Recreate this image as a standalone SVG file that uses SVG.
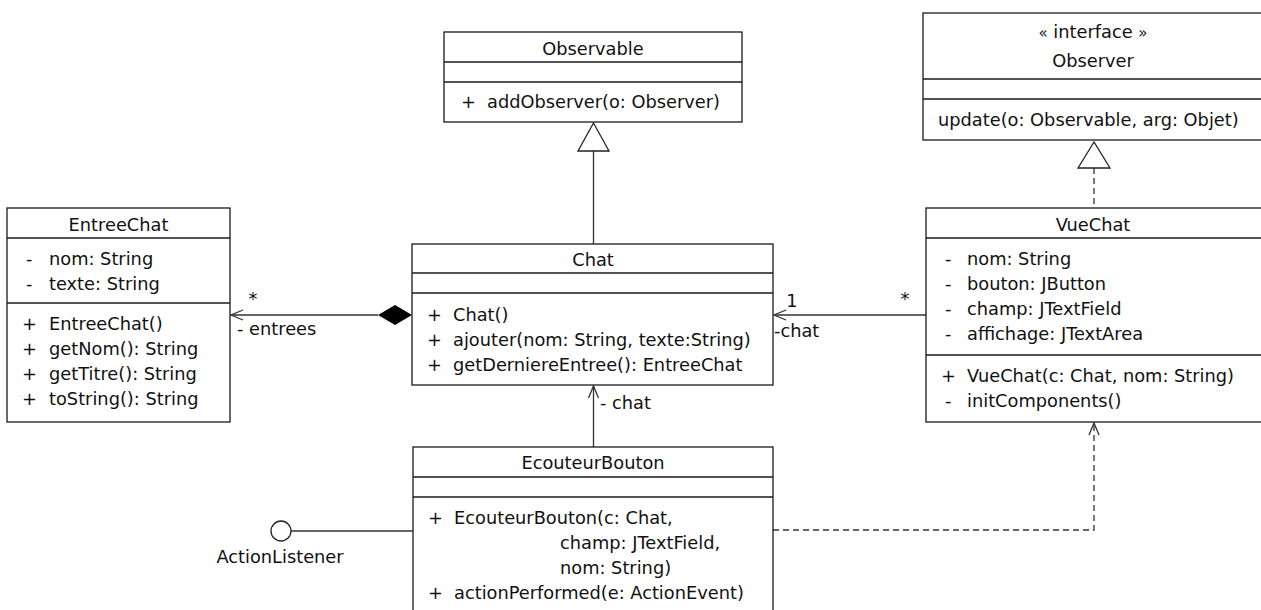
<svg xmlns="http://www.w3.org/2000/svg" width="1261" height="610" viewBox="0 0 1261 610">
<style>
  text { font-family: "DejaVu Sans", "Liberation Sans", sans-serif; font-size: 17.8px; fill: #111; }
  .c { text-anchor: middle; }
  .box { fill: #fff; stroke: #1a1a1a; stroke-width: 1.3; }
  .sep { stroke: #1a1a1a; stroke-width: 1.3; }
  .ln { fill: none; stroke: #333; stroke-width: 1.3; }
  .dash { fill: none; stroke: #333; stroke-width: 1.3; stroke-dasharray: 6 4; }
  .tri { fill: #fff; stroke: #222; stroke-width: 1.3; }
  .small { font-size: 15px; }
</style>
<rect width="1261" height="610" fill="#fff"/>

<g id="connectors">
  <!-- Chat -> Observable generalization -->
  <line class="ln" x1="593.5" y1="151" x2="593.5" y2="244"/>
  <polygon class="tri" points="593.5,123 578,151 609,151"/>
  <!-- VueChat -> Observer realization -->
  <line class="dash" x1="1094" y1="168" x2="1094" y2="208"/>
  <polygon class="tri" points="1094,142 1078,168 1110,168"/>
  <!-- Chat composition to EntreeChat -->
  <line class="ln" x1="231" y1="315" x2="378" y2="315"/>
  <polyline class="ln" points="243,310 231,315 243,320"/>
  <polygon points="378,315 395,305 412,315 395,325" fill="#000"/>
  <text x="253" y="305" class="c">*</text>
  <text x="237" y="335">- entrees</text>
  <!-- VueChat -> Chat -->
  <line class="ln" x1="774" y1="315" x2="926" y2="315"/>
  <polyline class="ln" points="786,310 774,315 786,320"/>
  <text x="792" y="307" class="c">1</text>
  <text x="905" y="305" class="c">*</text>
  <text x="774" y="337">-chat</text>
  <!-- EcouteurBouton -> Chat -->
  <line class="ln" x1="593.5" y1="386" x2="593.5" y2="447"/>
  <polyline class="ln" points="588.5,398 593.5,386 598.5,398"/>
  <text x="600" y="409">- chat</text>
  <!-- EcouteurBouton -> VueChat dependency -->
  <polyline class="dash" points="773,530 1094,530 1094,423"/>
  <polyline class="ln" points="1089,435 1094,423 1099,435"/>
  <!-- ActionListener lollipop -->
  <line class="ln" x1="291" y1="531" x2="413" y2="531"/>
  <circle cx="281" cy="531" r="10" fill="#fff" stroke="#222" stroke-width="1.3"/>
  <text x="280" y="563" class="c">ActionListener</text>
</g>

<g id="observable">
  <rect class="box" x="444" y="32" width="298" height="90"/>
  <line class="sep" x1="444" y1="62" x2="742" y2="62"/>
  <line class="sep" x1="444" y1="82" x2="742" y2="82"/>
  <text x="593" y="55" class="c">Observable</text>
  <text x="461" y="108">+</text>
  <text x="487" y="108">addObserver(o: Observer)</text>
</g>

<g id="observer">
  <rect class="box" x="923" y="13" width="340" height="127"/>
  <line class="sep" x1="923" y1="79" x2="1263" y2="79"/>
  <line class="sep" x1="923" y1="99" x2="1263" y2="99"/>
  <text x="1093" y="38" class="c"><tspan class="small">«</tspan> interface <tspan class="small">»</tspan></text>
  <text x="1093" y="67" class="c">Observer</text>
  <text x="938" y="126">update(o: Observable, arg: Objet)</text>
</g>

<g id="entreechat">
  <rect class="box" x="7" y="208" width="223" height="214"/>
  <line class="sep" x1="7" y1="238" x2="230" y2="238"/>
  <line class="sep" x1="7" y1="303" x2="230" y2="303"/>
  <text x="118.5" y="231" class="c">EntreeChat</text>
  <text x="26" y="265">-</text><text x="49" y="265">nom: String</text>
  <text x="26" y="290">-</text><text x="49" y="290">texte: String</text>
  <text x="22" y="330">+</text><text x="49" y="330">EntreeChat()</text>
  <text x="22" y="355">+</text><text x="49" y="355">getNom(): String</text>
  <text x="22" y="380">+</text><text x="49" y="380">getTitre(): String</text>
  <text x="22" y="405">+</text><text x="49" y="405">toString(): String</text>
</g>

<g id="chat">
  <rect class="box" x="412" y="244" width="361" height="141"/>
  <line class="sep" x1="412" y1="273" x2="773" y2="273"/>
  <line class="sep" x1="412" y1="293" x2="773" y2="293"/>
  <text x="593" y="266" class="c">Chat</text>
  <text x="427" y="321">+</text><text x="453" y="321">Chat()</text>
  <text x="427" y="346">+</text><text x="453" y="346">ajouter(nom: String, texte:String)</text>
  <text x="427" y="371">+</text><text x="453" y="371">getDerniereEntree(): EntreeChat</text>
</g>

<g id="vuechat">
  <rect class="box" x="926" y="208" width="337" height="214"/>
  <line class="sep" x1="926" y1="238" x2="1263" y2="238"/>
  <line class="sep" x1="926" y1="355" x2="1263" y2="355"/>
  <text x="1093" y="231" class="c">VueChat</text>
  <text x="945" y="265">-</text><text x="967" y="265">nom: String</text>
  <text x="945" y="290">-</text><text x="967" y="290">bouton: JButton</text>
  <text x="945" y="315">-</text><text x="967" y="315">champ: JTextField</text>
  <text x="945" y="340">-</text><text x="967" y="340">affichage: JTextArea</text>
  <text x="941" y="382">+</text><text x="967" y="382">VueChat(c: Chat, nom: String)</text>
  <text x="945" y="407">-</text><text x="967" y="407">initComponents()</text>
</g>

<g id="ecouteurbouton">
  <rect class="box" x="413" y="447" width="360" height="170"/>
  <line class="sep" x1="413" y1="477" x2="773" y2="477"/>
  <line class="sep" x1="413" y1="497" x2="773" y2="497"/>
  <text x="593" y="469" class="c">EcouteurBouton</text>
  <text x="428" y="524">+</text><text x="454" y="524">EcouteurBouton(c: Chat,</text>
  <text x="560" y="549">champ: JTextField,</text>
  <text x="560" y="574">nom: String)</text>
  <text x="428" y="599">+</text><text x="454" y="599">actionPerformed(e: ActionEvent)</text>
</g>
</svg>
